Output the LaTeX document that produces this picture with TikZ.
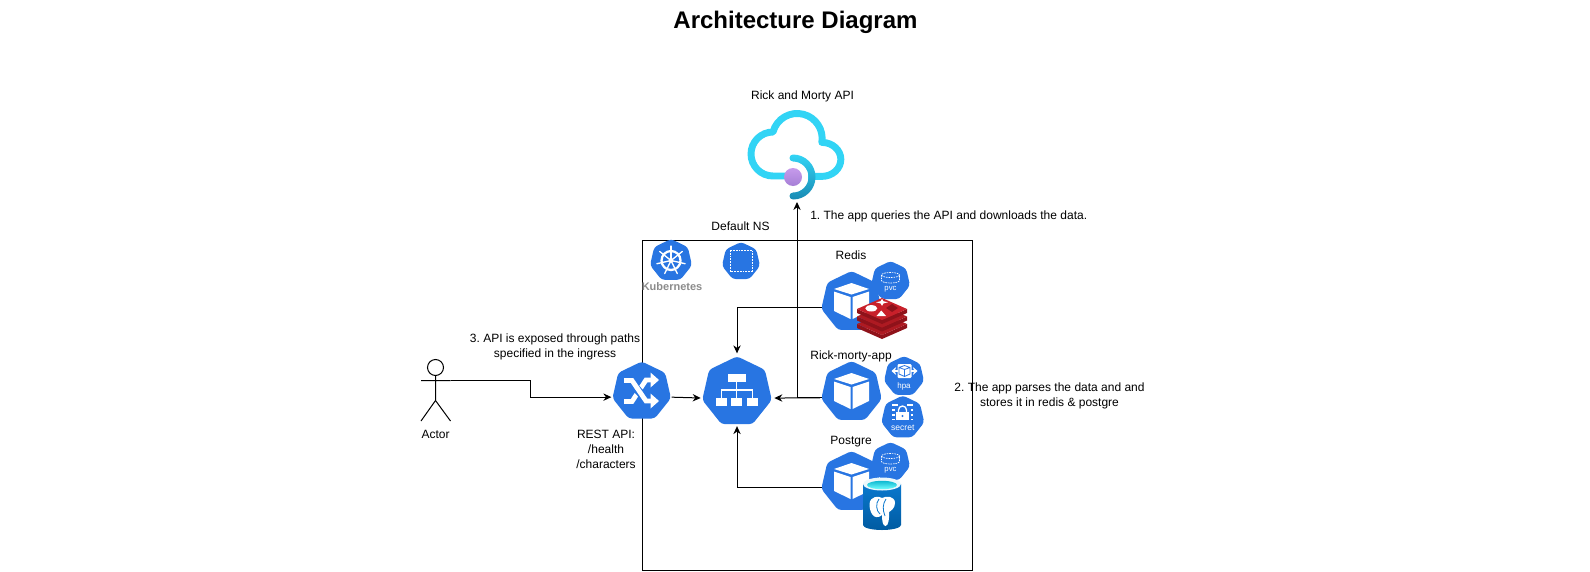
\documentclass[tikz,border=0pt]{standalone}
\usepackage{fontspec}
\setmainfont{Liberation Sans}
\usetikzlibrary{arrows.meta,shapes.geometric}
\definecolor{kblue}{HTML}{2875E2}
\definecolor{cloudtop}{HTML}{32D4F5}
\definecolor{cloudbot}{HTML}{198AB3}
\definecolor{redisdark}{HTML}{8F121A}
\definecolor{redismid}{HTML}{AE1A22}
\definecolor{redistop}{HTML}{C8202A}
\definecolor{pgtop}{HTML}{0A78CE}
\definecolor{pgbot}{HTML}{005BA1}
\definecolor{dottop}{HTML}{C69AEB}
\definecolor{dotbot}{HTML}{A67FD6}
\newcommand{\kCube}[2]{\begin{scope}[shift={(#1,#2)}]
    \fill[white] (0,-19)--(17.5,-13)--(0,-7.5)--(-17.5,-13)--cycle;
    \fill[white] (-17.5,-10.5)--(-1,-5)--(-1,17)--(-17.5,9)--cycle;
    \fill[white] (17.5,-10.5)--(1,-5)--(1,17)--(17.5,9)--cycle;
\end{scope}}
\newcommand{\kPvc}[2]{\begin{scope}[shift={(#1,#2)}]
    \draw[white,line width=0.5pt,dash pattern=on 1.2pt off 0.7pt] (-9,-8) -- (-9,-2.5) arc[start angle=180,end angle=0,x radius=9,y radius=2.5] -- (9,-8);
    \draw[white,line width=0.5pt,dash pattern=on 1.2pt off 0.7pt] (0,-8) ellipse[x radius=9,y radius=2.5];
\end{scope}}
\newcommand{\kRedisLayer}[3]{\begin{scope}[shift={(#1,#2)}]
    \fill[redisdark] (-25,0)--(0,11)--(25,0)--(25,4)--(0,15)--(-25,4)--cycle;
    \fill[#3] (0,-11)--(25,0)--(0,11)--(-25,0)--cycle;
\end{scope}}
\tikzset{
  hept/.style={regular polygon,regular polygon sides=7,fill=kblue,draw=none,inner sep=0pt,outer sep=0pt,minimum size=#1,rounded corners=2.5pt},
  lbl/.style={font=\fontsize{9}{11.2}\selectfont,text=black,align=center,inner sep=0pt},
  tiny/.style={font=\fontsize{#1}{#1}\selectfont,text=white,inner sep=0pt},
  conn/.style={draw=black,line width=0.75pt,-{Stealth[length=6pt,width=5.5pt]}},
}
\begin{document}
\frenchspacing
\begin{tikzpicture}[x=0.75pt,y=0.75pt,yscale=-1]
\useasboundingbox (0,0) rectangle (1590,571);
\fill[white] (0,0) rectangle (1590,571);

% frame
\node[draw=black,line width=0.75pt,fill=white,minimum width=247.5pt,minimum height=247.5pt,inner sep=0pt,outer sep=0pt] (frame) at (807,405) {};

% title and labels
\node[font=\bfseries\fontsize{18}{22}\selectfont,inner sep=0pt] (title) at (795.5,22) {Architecture Diagram};
\node[lbl] (apilabel) at (802.5,96) {Rick and Morty API};
\node[lbl,anchor=west] (step1) at (810,216) {1. The app queries the API and downloads the data.};
\node[lbl] (nslabel) at (740.5,226) {Default NS};
\node[lbl] (redislabel) at (851,255.5) {Redis};
\node[lbl] (applabel) at (851,356) {Rick-morty-app};
\node[lbl] (pglabel) at (851,442) {Postgre};
\node[lbl] (step2) at (1049.5,396) {2. The app parses the data and and\\stores it in redis \& postgre};
\node[lbl] (step3) at (555,346.5) {3. API is exposed through paths\\specified in the ingress};
\node[lbl] (rest) at (606,449) {REST API:\\/health\\/characters};
\node[lbl] (actorlabel) at (435.5,434.5) {Actor};
\node[font=\bfseries\fontsize{8.25}{10}\selectfont,text=black!45,inner sep=0pt] (k8slabel) at (672,287) {Kubernetes};

% cloud
\node[minimum width=72pt,minimum height=70.5pt,inner sep=0pt,outer sep=0pt] (cloud) at (797,155) {};
\draw[cloudtop,line width=5.2pt,line join=round] (787,176) -- (773,176)
  arc[start angle=90,end angle=270,radius=22]
  arc[start angle=195,end angle=369,radius=25]
  arc[start angle=270,end angle=450,x radius=19,y radius=17] -- (808,176.4);
\shade[top color=cloudtop,middle color=cloudtop,bottom color=cloudbot]
  (793,154.5) arc[start angle=270,end angle=450,radius=22.5]
  arc[start angle=90,end angle=270,radius=3.5]
  arc[start angle=90,end angle=-90,radius=15.5]
  arc[start angle=90,end angle=270,radius=3.5] -- cycle;
\shade[top color=dottop,bottom color=dotbot] (793,177) circle[radius=9];

% nodes: heptagons
\node[hept=32.25pt] (k8s) at (671,260.5) {};
\node[hept=29.25pt] (ns) at (741,261.5) {};
\node[hept=45pt] (ing) at (641.7,391.5) {};
\node[hept=53.5pt] (svc) at (737,392) {};
\node[hept=46.5pt] (redis) at (851.5,302) {};
\node[hept=46.5pt] (app) at (851.5,392) {};
\node[hept=46.5pt] (pg) at (851.5,482) {};
\node[hept=30pt] (pvcr) at (890.5,281) {};
\node[hept=30pt] (pvcp) at (890.5,462) {};
\node[hept=30.75pt] (hpa) at (904,376.5) {};
\node[hept=33pt] (secret) at (902.8,417.5) {};

% kubernetes wheel
\draw[white,line width=1.7pt] (671,260.5) circle[radius=9.5];
\fill[white] (671,260.5) circle[radius=2.2];
\foreach \a in {0,...,6}{
  \draw[white,line width=1pt,line cap=round] (671,260.5) -- ++({-90+\a*360/7}:14.5);
}
% namespace
\draw[white,line width=0.7pt,dash pattern=on 1.3pt off 0.8pt] (730,250) rectangle (752,271);

% ingress icon
\draw[white,line width=3.6pt] (624,401.5) -- (632,401.5) -- (646,380) -- (652,380);
\fill[white] (650.5,372.5) -- (659,380) -- (650.5,387.5) -- cycle;
\draw[kblue,line width=6pt] (633,385) -- (645,398);
\draw[white,line width=3.6pt] (624,380.5) -- (632,380.5) -- (646,401) -- (652,401);
\fill[white] (650.5,393.5) -- (659,401) -- (650.5,408.5) -- cycle;

% service icon
\fill[white] (727.7,374.3) rectangle (745.7,382.3);
\draw[white,line width=0.95pt] (736.7,382) -- (736.7,398.5);
\draw[white,line width=0.95pt] (721.2,398.5) -- (721.2,390) -- (752.2,390) -- (752.2,398.5);
\fill[white] (715.7,398.3) rectangle (726.7,406.3);
\fill[white] (731.2,398.3) rectangle (742.2,406.3);
\fill[white] (746.7,398.3) rectangle (757.7,406.3);

% cubes
\kCube{851.5}{302}
\kCube{851.5}{392}
\kCube{851.5}{482}

% pvc icons
\kPvc{890.5}{283}
\kPvc{890.5}{464}
\node[tiny=5.8] (pvcrt) at (890.5,289.5) {pvc};
\node[tiny=5.8] (pvcpt) at (890.5,470.5) {pvc};

% hpa icon
\draw[white,line width=1.3pt,{Stealth[length=3.5pt,width=6pt]}-{Stealth[length=3.5pt,width=6pt]}] (891.5,371) -- (917.5,371);
\fill[white,rounded corners=0.8pt] (897.5,364) rectangle (911.5,378);
\draw[kblue,line width=0.6pt] (899,367.5) -- (904.5,365.5) -- (910,367.5) -- (910,374) -- (904.5,376.5) -- (899,374) -- cycle (899,367.5) -- (904.5,369.5) -- (910,367.5) (904.5,369.5) -- (904.5,376.5);
\node[tiny=6] (hpat) at (904,386) {hpa};

% secret icon
\fill[white] (896,411.7) rectangle (909,420);
\draw[white,line width=1pt] (898.5,412) -- (898.5,410) arc[start angle=180,end angle=360,radius=4] -- (906.5,412);
\fill[kblue] (902.5,416) circle[radius=1.2];
\draw[white,line width=0.8pt] (892,405) -- (898,405) (907,405) -- (913,405) (892,410) -- (894.5,410) (910.5,410) -- (913,410) (892,415) -- (894.5,415) (910.5,415) -- (913,415) (892,419.5) -- (894.5,419.5) (910.5,419.5) -- (913,419.5);
\node[tiny=6.4] (secrett) at (902.8,427.3) {secret};

% redis logo
\kRedisLayer{882}{324}{redismid}
\kRedisLayer{882}{316.5}{redismid}
\kRedisLayer{882}{309}{redistop}
\fill[white] (871.3,308.3) ellipse[x radius=6,y radius=3.2];
\fill[white] (876,302.3)--(880.5,301.2)--(882,298.8)--(883.5,301.2)--(888,302.3)--(883.5,303.4)--(882,305.8)--(880.5,303.4)--cycle;
\fill[white] (881.3,310.5)--(876.5,316)--(886,316)--cycle;
\fill[redisdark] (886,308)--(892,304)--(898,308)--(892,312)--cycle;

% postgres logo
\shade[top color=pgtop,bottom color=pgbot] (863,484) -- (863,525) arc[start angle=180,end angle=0,x radius=19,y radius=5] -- (901,484) -- cycle;
\fill[black!8!cyan!8!white] (882,484) ellipse[x radius=19,y radius=6.5];
\shade[top color=cloudbot!60!cyan,bottom color=cyan!55!white] (882,485) ellipse[x radius=15,y radius=4.2];
\fill[white] (869.5,504) .. controls (870,496) and (879,495.5) .. (882,498) .. controls (886,495.5) and (895,496) .. (895,503) .. controls (895,508) and (891,511) .. (889,512) .. controls (889.5,518) and (888.5,526) .. (885.5,526) .. controls (882.5,526) and (882,520) .. (882,515) .. controls (879,518) and (874,518) .. (872,514) .. controls (870,511) and (869.5,507) .. cycle;
\draw[pgtop,line width=0.6pt] (879,499) .. controls (875.5,503) and (876,511) .. (880,514);
\draw[pgtop,line width=0.6pt] (886,499) .. controls (882.5,504) and (882.5,510) .. (885,516);

% actor
\node[draw=black,circle,line width=0.75pt,fill=white,minimum size=12pt,inner sep=0pt,outer sep=0pt] (actorhead) at (435.5,367.5) {};
\coordinate (actorleft) at (421,380.5);
\coordinate (actorarm) at (450.5,380.5);
\coordinate (actorhip) at (435.5,400.5);
\coordinate (actorfootl) at (421,421);
\coordinate (actorfootr) at (450.5,421);
\coordinate (actorbend) at (530.5,380.5);
\draw[black,line width=0.75pt] (actorhead.south) -- (actorhip) (actorleft) -- (actorarm) (actorfootl) -- (actorhip) -- (actorfootr);

% connectors
\draw[conn,shorten >=1pt] (actorarm) -- (actorbend) |- (ing.191);
\draw[conn,shorten <=0.75pt,shorten >=1.5pt] (ing.-11) -- (svc.190);
\draw[conn,shorten >=2.25pt] (redis.191) -| (svc.north);
\draw[conn,shorten <=1pt,shorten >=2.25pt] (app.191) -- (svc.-10);
\draw[conn] (app.191) -| (cloud.south);
\draw[conn,shorten >=1.5pt] (pg.191) -| (svc.south);
\end{tikzpicture}
\end{document}
